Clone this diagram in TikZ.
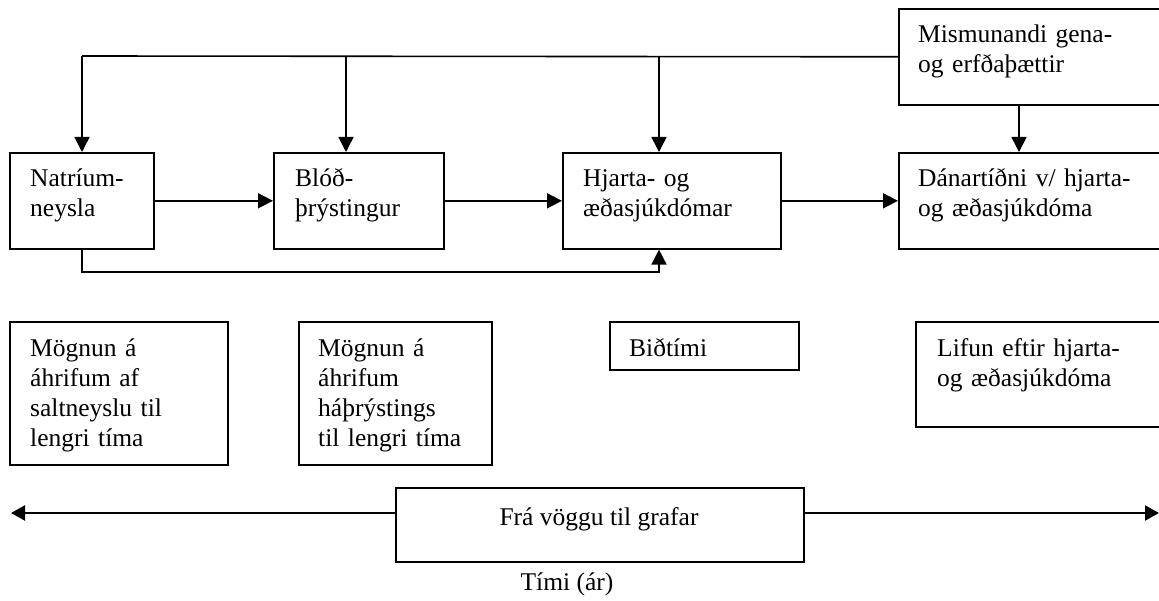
\documentclass[tikz,border=0pt]{standalone}
\usepackage{fontspec}
\setmainfont{Liberation Serif}
\usetikzlibrary{arrows.meta}
\newcommand{\fsz}{\fontsize{25.5pt}{30pt}\selectfont}
\begin{document}
\begin{tikzpicture}[x=1pt,y=-1pt,
  box/.style={draw, line width=1.6pt, inner sep=0pt, anchor=north west},
  txt/.style={anchor=base west, inner sep=0pt, align=left, font=\fsz},
  ctxt/.style={anchor=base, inner sep=0pt, font=\fsz},
  line/.style={line width=1.6pt},
  arr/.style={line width=1.6pt, -{Triangle[length=15pt,width=15pt]}},
  timearr/.style={line width=2.2pt, -{Triangle[length=14pt,width=15pt]}}]
\useasboundingbox (0,0) rectangle (1159,601);
\clip (0,0) rectangle (1159,601);
% top row boxes
\node[box, minimum width=144pt, minimum height=96pt] (nat) at (9,152) {};
\node[box, minimum width=170pt, minimum height=96pt] (blo) at (273,152) {};
\node[box, minimum width=218pt, minimum height=96pt] (hja) at (562,152) {};
\node[box, minimum width=270pt, minimum height=96pt] (dan) at (898,152) {};
\node[box, minimum width=270pt, minimum height=96pt] (mis) at (898,8) {};
\node[txt, text width=118pt] (natT) at (30,187) {Natríum-\\neysla};
\node[txt, text width=140pt] (bloT) at (295,187) {Blóð-\\þrýstingur};
\node[txt, text width=190pt] (hjaT) at (583,187) {Hjarta- og\\æðasjúkdómar};
\node[txt, text width=236pt] (danT) at (918,187) {Dánartíðni v/ hjarta-\\og æðasjúkdóma};
\node[txt, text width=236pt] (misT) at (918,43) {Mismunandi gena-\\og erfðaþættir};
% second row boxes
\node[box, minimum width=218pt, minimum height=143pt] (m1) at (9,321) {};
\node[box, minimum width=193pt, minimum height=143pt] (m2) at (298,321) {};
\node[box, minimum width=189pt, minimum height=48pt] (bid) at (609,321) {};
\node[box, minimum width=255pt, minimum height=105pt] (lif) at (915,321) {};
\node[txt, text width=190pt] (m1T) at (30,356) {Mögnun á\\áhrifum af\\saltneyslu til\\lengri tíma};
\node[txt, text width=165pt] (m2T) at (318,356) {Mögnun á\\áhrifum\\háþrýstings\\til lengri tíma};
\node[txt, text width=160pt] (bidT) at (629,356) {Biðtími};
\node[txt, text width=225pt] (lifT) at (937,356) {Lifun eftir hjarta-\\og æðasjúkdóma};
% bottom
\node[box, minimum width=408pt, minimum height=74pt] (fra) at (395,487) {};
\node[ctxt] (fraT) at (599,525) {Frá vöggu til grafar};
\node[ctxt] (timi) at (567,590) {Tími (ár)};
% connector coordinates
\coordinate (d1) at (82,56);
\coordinate (d2) at (346,56);
\coordinate (d3) at (659,56);
\coordinate (d4) at (1019,0);
\coordinate (fb) at (0,272);
\coordinate (L) at (11,513);
\coordinate (R) at (1159,513);
% connectors
\draw[line] (mis.west) -- (d1);
\draw[arr] (d1) -- (d1 |- nat.north);
\draw[arr] (d2) -- (d2 |- blo.north);
\draw[arr] (d3) -- (d3 |- hja.north);
\draw[arr] (mis.south -| d4) -- (dan.north -| d4);
\draw[arr] (nat.east) -- (blo.west);
\draw[arr] (blo.east) -- (hja.west);
\draw[arr] (hja.east) -- (dan.west);
\draw[arr] (nat.south -| d1) -- (d1 |- fb) -- (d3 |- fb) -- (hja.south -| d3);
\draw[timearr] (fra.west |- L) -- (L);
\draw[timearr] (fra.east |- R) -- (R);
\end{tikzpicture}
\end{document}
